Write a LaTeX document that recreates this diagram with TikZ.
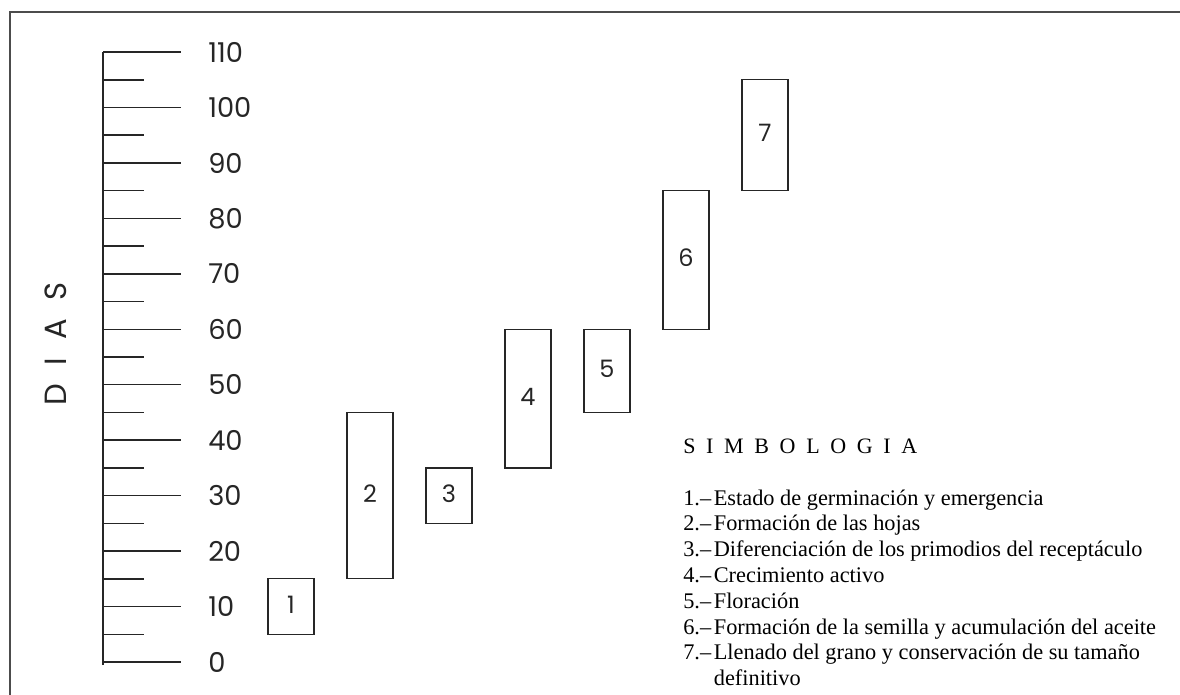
\documentclass[tikz,border=0pt]{standalone}
\usepackage{fontspec}
\setmainfont{Liberation Serif}
\newfontfamily\gothic{Poppins}
\begin{document}
\begin{tikzpicture}[x=0.75pt,y=-0.75pt]
\useasboundingbox (0,0) rectangle (1180,695);
\tikzset{
  framestyle/.style={line width=1.4pt, draw=black!70},
  axisline/.style={line width=1.1pt, draw=black!85},
  phasebox/.style={line width=1.0pt, draw=black!85},
  axisnum/.style={anchor=west, inner sep=0pt, font=\gothic\fontsize{20.5}{24}\selectfont, text=black!85},
  boxnum/.style={inner sep=0pt, font=\gothic\fontsize{18}{22}\selectfont, text=black!85},
}
% frame (cut at right and bottom)
\coordinate (fbl) at (10,700);
\coordinate (ftl) at (10,12);
\coordinate (ftr) at (1185,12);
\draw[framestyle] (fbl) -- (ftl) -- (ftr);
% axis
\coordinate (atop) at (103,52);
\coordinate (abot) at (103,665);
\draw[axisline] (abot) -- (atop);
\foreach \v in {0,10,...,110}{
  \coordinate (tl\v) at (103,{662-5.545*\v});
  \coordinate (tr\v) at (181,{662-5.545*\v});
  \draw[axisline] (tl\v) -- (tr\v);
  \node[axisnum] (lab\v) at (208,{662-5.545*\v}) {\v};
}
\foreach \v in {5,15,...,105}{
  \coordinate (sl\v) at (103,{662-5.545*\v});
  \coordinate (sr\v) at (144,{662-5.545*\v});
  \draw[axisline] (sl\v) -- (sr\v);
}
% DIAS
\node[rotate=90, inner sep=0pt, font=\gothic\fontsize{23}{26}\selectfont, text=black!85] (dias) at (56,344) {{\spaceskip=14pt D I A S}};
% phase boxes
\foreach \i/\lo/\hi in {1/5/15, 2/15/45, 3/25/35, 4/35/60, 5/45/60, 6/60/85, 7/85/105}{
  \pgfmathsetmacro{\xl}{268+79*(\i-1)}
  \pgfmathsetmacro{\xr}{\xl+46}
  \pgfmathsetmacro{\yt}{662-5.545*\hi}
  \pgfmathsetmacro{\yb}{662-5.545*\lo}
  \draw[phasebox] (\xl,\yt) rectangle (\xr,\yb);
  \node[boxnum] (box\i) at ({\xl+23},{(\yt+\yb)/2-2}) {\i};
}
% legend
\node[anchor=base west, inner sep=0pt, font=\fontsize{16.5}{20}\selectfont, text=black] (simb) at (683,453) {{\spaceskip=8pt S I M B O L O G I A}};
\node[anchor=base west, inner sep=0pt, font=\fontsize{16.75}{19.35}\selectfont, text=black] (legend) at (683,505) {%
\begin{tabular}[t]{@{}l@{\hspace{2pt}}l@{}}
1.– & Estado de germinación y emergencia\\
2.– & Formación de las hojas\\
3.– & Diferenciación de los primodios del receptáculo\\
4.– & Crecimiento activo\\
5.– & Floración\\
6.– & Formación de la semilla y acumulación del aceite\\
7.– & Llenado del grano y conservación de su tamaño\\
    & definitivo
\end{tabular}};
\end{tikzpicture}
\end{document}
